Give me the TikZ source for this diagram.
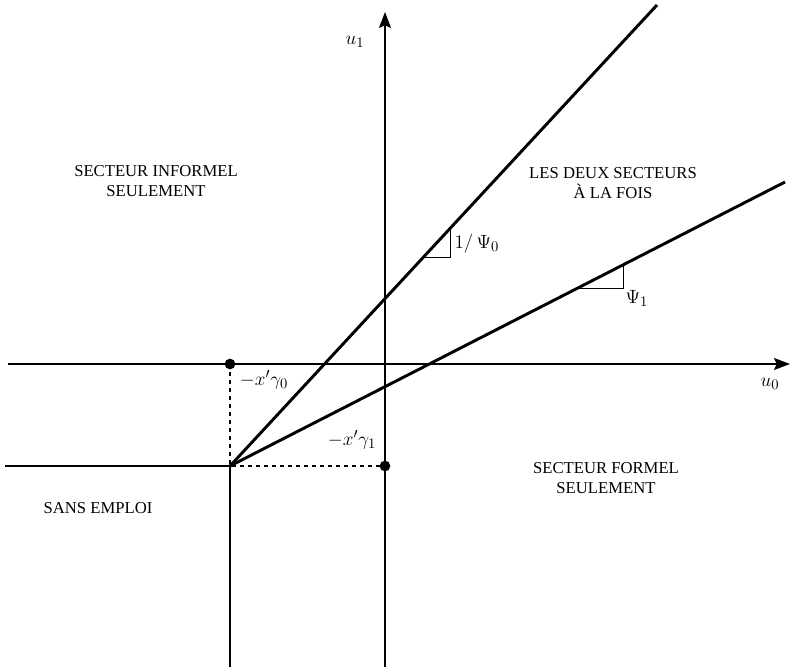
\documentclass[tikz,border=0pt]{standalone}
\usepackage{fontspec}
\setmainfont{Liberation Serif}
\usetikzlibrary{arrows.meta}

\tikzset{
  axis/.style={line width=0.9pt},
  bound/.style={line width=2.2pt},
  guide/.style={dashed, line width=0.8pt},
  slope/.style={line width=0.7pt},
  zone/.style={align=center, font=\fontsize{12.5}{15}\selectfont},
  lab/.style={font=\fontsize{15}{17}\selectfont, inner sep=1pt}
}

\begin{document}
\begin{tikzpicture}[x=0.75pt,y=-0.75pt]
\useasboundingbox (0,0) rectangle (790,667);

% Points
\coordinate (K) at (230,466);
\coordinate (P0) at (230,364);
\coordinate (P1) at (385,466);
\coordinate (L0) at (657,5);
\coordinate (L1) at (785,182);

% Axes
\draw[axis,-{Stealth[length=12pt,width=9pt,inset=2pt]}] (8,364) coordinate (xa) -- (790,364) coordinate (xb);
\draw[axis,-{Stealth[length=12pt,width=9pt,inset=2pt]}] (385,667) coordinate (ya) -- (385,12) coordinate (yb);
\node[lab] (u1) at (355,42) {$u_1$};
\node[lab] (u0) at (770,384) {$u_0$};

% Boundaries
\draw[bound] (5,466) coordinate (W) -- (K) -- (230,667) coordinate (S);
\draw[bound] (K) -- (L0);
\draw[bound] (K) -- (L1);

% Dashed guides
\draw[guide] (P0) -- (K) -- (P1);
\fill (P0) circle (4pt);
\fill (P1) circle (4pt);
\node[lab] (g0) at (264,380) {$-x'\gamma_0$};
\node[lab] (g1) at (352,440) {$-x'\gamma_1$};

% Slope triangles
\draw[slope] (423.6,257) coordinate (a0) -- (450,257) coordinate (b0) -- (450,228.5) coordinate (c0);
\node[lab, anchor=west] (s0) at (453,244) {$1/\,\Psi_0$};
\draw[slope] (578,288) coordinate (a1) -- (623,288) coordinate (b1) -- (623,265) coordinate (c1);
\node[lab, anchor=west] (s1) at (624,298) {$\Psi_1$};

% Regions
\node[zone] (inf) at (156,181) {SECTEUR INFORMEL\\SEULEMENT};
\node[zone] (deux) at (613,183) {LES DEUX SECTEURS\\À LA FOIS};
\node[zone] (form) at (606,478) {SECTEUR FORMEL\\SEULEMENT};
\node[zone] (sans) at (98,508) {SANS EMPLOI};
\end{tikzpicture}
\end{document}
